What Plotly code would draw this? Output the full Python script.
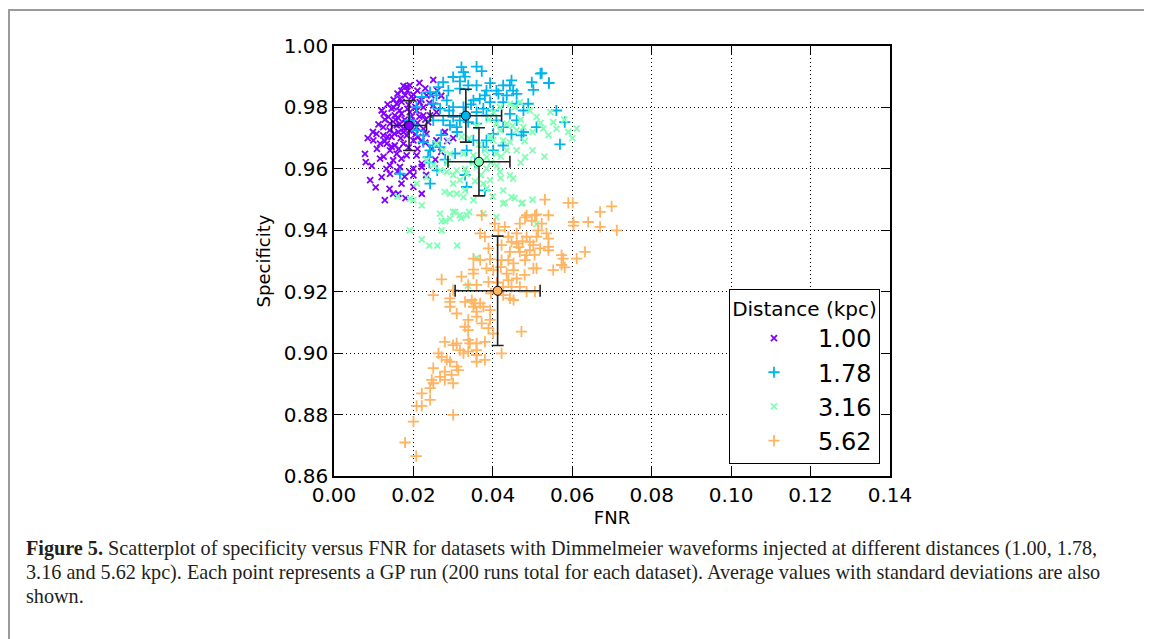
import plotly.graph_objects as go

# ---------------- data ----------------
distances = ["1.00", "1.78", "3.16", "5.62"]
colors = ["#8000ff", "#00b4ec", "#80ffb4", "#ffb462"]
symbols = ["x-thin", "cross-thin", "x-thin", "cross-thin"]

runs_100 = [
    (0.0250,0.9890),(0.0191,0.9872),(0.0170,0.9855),(0.0185,0.9855),(0.0210,0.9855),(0.0233,0.9839),(0.0120,0.9790),(0.0145,0.9796),(0.0158,0.9812),(0.0166,0.9828),
    (0.0179,0.9839),(0.0200,0.9828),(0.0216,0.9817),(0.0137,0.9769),(0.0153,0.9774),(0.0170,0.9780),(0.0191,0.9785),(0.0208,0.9790),(0.0225,0.9774),(0.0124,0.9736),
    (0.0141,0.9747),(0.0158,0.9742),(0.0175,0.9731),(0.0208,0.9736),(0.0107,0.9714),(0.0124,0.9709),(0.0145,0.9704),(0.0162,0.9720),(0.0183,0.9709),(0.0212,0.9704),
    (0.0099,0.9693),(0.0116,0.9682),(0.0133,0.9682),(0.0153,0.9676),(0.0175,0.9682),(0.0200,0.9693),(0.0258,0.9693),(0.0279,0.9720),(0.0233,0.9714),(0.0141,0.9660),
    (0.0158,0.9649),(0.0183,0.9644),(0.0208,0.9644),(0.0078,0.9649),(0.0080,0.9622),(0.0116,0.9633),(0.0149,0.9628),(0.0170,0.9633),(0.0141,0.9611),(0.0166,0.9606),
    (0.0200,0.9601),(0.0221,0.9617),(0.0221,0.9606),(0.0091,0.9563),(0.0120,0.9573),(0.0141,0.9584),(0.0170,0.9552),(0.0200,0.9541),(0.0149,0.9519),(0.0162,0.9519),
    (0.0221,0.9519),(0.0128,0.9498),(0.0200,0.9579),(0.0191,0.9590),(0.0242,0.9774),(0.0258,0.9785),(0.0237,0.9752),(0.0250,0.9807),
    (0.0150,0.9800),(0.0162,0.9765),(0.0178,0.9760),(0.0195,0.9758),(0.0140,0.9725),(0.0152,0.9715),(0.0168,0.9700),(0.0190,0.9725),(0.0205,0.9712),(0.0220,0.9690),
    (0.0135,0.9705),(0.0128,0.9690),(0.0145,0.9672),(0.0163,0.9665),(0.0188,0.9670),(0.0210,0.9665),(0.0230,0.9685),(0.0245,0.9665),(0.0170,0.9818),(0.0188,0.9808),
    (0.0205,0.9802),(0.0225,0.9800),(0.0240,0.9815),(0.0200,0.9842),(0.0183,0.9868),(0.0230,0.9862),(0.0260,0.9855),(0.0270,0.9838),(0.0128,0.9760),(0.0112,0.9745),
    (0.0098,0.9720),(0.0085,0.9700),(0.0108,0.9665),(0.0125,0.9640),(0.0095,0.9610),(0.0132,0.9600),(0.0160,0.9592),(0.0178,0.9575),(0.0105,0.9540),(0.0140,0.9535),
    (0.0180,0.9505),(0.0232,0.9580),(0.0255,0.9630),(0.0270,0.9655),(0.0285,0.9690),(0.0300,0.9700),
    (0.0160,0.9845),(0.0175,0.9870),(0.0215,0.9880),(0.0195,0.9835),(0.0150,0.9825),(0.0135,0.9810),(0.0125,0.9780),(0.0165,0.9790),(0.0185,0.9795),(0.0215,0.9770),
    (0.0230,0.9760),(0.0180,0.9750),(0.0165,0.9745),(0.0210,0.9750),(0.0220,0.9825),(0.0245,0.9840),(0.0155,0.9760),(0.0195,0.9770),(0.0175,0.9720),(0.0225,0.9730),
]

runs_178 = [
    (0.0321,0.9931),(0.0326,0.9915),(0.0330,0.9900),(0.0317,0.9885),(0.0359,0.9933),(0.0372,0.9918),(0.0300,0.9899),(0.0275,0.9882),(0.0263,0.9866),(0.0288,0.9855),
    (0.0317,0.9861),(0.0338,0.9872),(0.0359,0.9872),(0.0393,0.9879),(0.0426,0.9872),(0.0447,0.9888),(0.0443,0.9872),(0.0451,0.9855),(0.0409,0.9855),(0.0384,0.9855),
    (0.0380,0.9839),(0.0414,0.9844),(0.0435,0.9839),(0.0460,0.9844),(0.0498,0.9882),(0.0520,0.9910),(0.0541,0.9879),(0.0502,0.9857),(0.0351,0.9823),(0.0367,0.9828),
    (0.0393,0.9817),(0.0426,0.9817),(0.0460,0.9812),(0.0489,0.9812),(0.0477,0.9790),(0.0284,0.9823),(0.0258,0.9839),(0.0242,0.9850),(0.0221,0.9834),(0.0250,0.9812),
    (0.0208,0.9801),(0.0267,0.9796),(0.0275,0.9758),(0.0250,0.9758),(0.0300,0.9769),(0.0317,0.9758),(0.0292,0.9742),(0.0309,0.9736),(0.0338,0.9752),(0.0359,0.9747),
    (0.0384,0.9774),(0.0401,0.9790),(0.0376,0.9796),(0.0359,0.9785),(0.0409,0.9758),(0.0443,0.9779),(0.0426,0.9736),(0.0460,0.9758),(0.0477,0.9720),(0.0447,0.9712),
    (0.0401,0.9714),(0.0384,0.9693),(0.0351,0.9693),(0.0334,0.9660),(0.0401,0.9660),(0.0376,0.9671),(0.0242,0.9660),(0.0237,0.9638),(0.0267,0.9671),(0.0250,0.9676),
    (0.0225,0.9709),(0.0208,0.9725),(0.0191,0.9758),(0.0200,0.9742),(0.0166,0.9584),(0.0242,0.9552),(0.0334,0.9541),(0.0380,0.9530),(0.0560,0.9790),(0.0581,0.9752),
    (0.0569,0.9680),(0.0472,0.9709),(0.0426,0.9676),(0.0225,0.9687),(0.0300,0.9801),(0.0326,0.9801),(0.0510,0.9736),(0.0523,0.9912),(0.0541,0.9880),(0.0280,0.9630),
    (0.0310,0.9720),(0.0330,0.9780),(0.0290,0.9790),(0.0345,0.9810),(0.0270,0.9710),(0.0305,0.9650),(0.0355,0.9620),(0.0260,0.9595),(0.0240,0.9620),(0.0330,0.9580),
]

runs_316 = [
    (0.0443,0.9812),(0.0468,0.9817),(0.0456,0.9801),(0.0418,0.9801),(0.0401,0.9785),(0.0493,0.9790),(0.0510,0.9769),(0.0527,0.9731),(0.0552,0.9752),(0.0590,0.9720),
    (0.0611,0.9731),(0.0477,0.9736),(0.0460,0.9725),(0.0435,0.9747),(0.0409,0.9747),(0.0418,0.9725),(0.0401,0.9693),(0.0393,0.9704),(0.0426,0.9693),(0.0443,0.9687),
    (0.0481,0.9638),(0.0460,0.9660),(0.0435,0.9660),(0.0409,0.9649),(0.0384,0.9638),(0.0351,0.9644),(0.0326,0.9649),(0.0292,0.9649),(0.0275,0.9660),(0.0258,0.9682),
    (0.0288,0.9693),(0.0321,0.9704),(0.0233,0.9628),(0.0250,0.9611),(0.0267,0.9595),(0.0284,0.9590),(0.0309,0.9595),(0.0334,0.9584),(0.0359,0.9606),(0.0384,0.9601),
    (0.0418,0.9590),(0.0443,0.9579),(0.0451,0.9568),(0.0393,0.9563),(0.0376,0.9552),(0.0317,0.9563),(0.0300,0.9552),(0.0279,0.9525),(0.0292,0.9519),(0.0309,0.9519),
    (0.0326,0.9508),(0.0351,0.9498),(0.0384,0.9536),(0.0426,0.9530),(0.0447,0.9508),(0.0426,0.9487),(0.0472,0.9487),(0.0233,0.9573),(0.0208,0.9552),(0.0267,0.9454),
    (0.0300,0.9460),(0.0317,0.9449),(0.0334,0.9449),(0.0292,0.9438),(0.0200,0.9498),(0.0191,0.9503),(0.0221,0.9481),(0.0376,0.9454),(0.0409,0.9443),
    (0.0191,0.9400),(0.0221,0.9370),(0.0240,0.9350),(0.0260,0.9350),(0.0310,0.9350),(0.0271,0.9400),(0.0271,0.9430),(0.0280,0.9430),(0.0305,0.9460),(0.0320,0.9440),
    (0.0340,0.9460),(0.0400,0.9510),(0.0430,0.9490),(0.0455,0.9505),(0.0475,0.9490),(0.0500,0.9500),(0.0510,0.9420),(0.0337,0.9220),(0.0359,0.9310),
    (0.0365,0.9680),(0.0380,0.9660),(0.0350,0.9620),(0.0395,0.9620),(0.0420,0.9640),(0.0330,0.9600),(0.0370,0.9580),(0.0420,0.9570),(0.0300,0.9580),(0.0285,0.9620),
    (0.0480,0.9690),(0.0500,0.9720),(0.0450,0.9740),(0.0470,0.9760),(0.0520,0.9750),(0.0540,0.9710),(0.0560,0.9730),(0.0580,0.9760),(0.0545,0.9785),(0.0600,0.9700),
    (0.0500,0.9660),(0.0470,0.9620),(0.0530,0.9640),(0.0160,0.9510),(0.0340,0.9700),(0.0360,0.9740),(0.0390,0.9760),(0.0330,0.9530),(0.0355,0.9560),(0.0410,0.9610),
]

runs_562 = [
    (0.0531,0.9500),(0.0590,0.9489),(0.0601,0.9489),(0.0699,0.9478),(0.0670,0.9460),(0.0481,0.9442),(0.0506,0.9449),(0.0540,0.9449),(0.0405,0.9422),(0.0430,0.9411),
    (0.0468,0.9422),(0.0498,0.9431),(0.0523,0.9422),(0.0603,0.9427),(0.0640,0.9427),(0.0603,0.9415),(0.0670,0.9411),(0.0712,0.9400),(0.0414,0.9400),(0.0368,0.9390),
    (0.0380,0.9379),(0.0460,0.9390),(0.0485,0.9379),(0.0514,0.9400),(0.0535,0.9390),(0.0540,0.9373),(0.0510,0.9379),(0.0493,0.9362),(0.0502,0.9352),(0.0540,0.9346),
    (0.0540,0.9335),(0.0519,0.9341),(0.0493,0.9335),(0.0439,0.9379),(0.0447,0.9362),(0.0460,0.9357),(0.0422,0.9352),(0.0389,0.9341),(0.0468,0.9330),(0.0443,0.9330),
    (0.0485,0.9319),(0.0573,0.9319),(0.0577,0.9308),(0.0611,0.9308),(0.0632,0.9330),(0.0351,0.9308),(0.0368,0.9303),(0.0393,0.9305),(0.0422,0.9303),(0.0439,0.9303),
    (0.0452,0.9292),(0.0481,0.9303),(0.0502,0.9276),(0.0510,0.9276),(0.0552,0.9270),(0.0573,0.9287),(0.0581,0.9279),(0.0351,0.9272),(0.0351,0.9259),(0.0384,0.9276),
    (0.0401,0.9270),(0.0435,0.9259),(0.0452,0.9270),(0.0460,0.9243),(0.0439,0.9238),(0.0447,0.9216),(0.0426,0.9216),(0.0271,0.9240),(0.0321,0.9249),(0.0338,0.9222),
    (0.0359,0.9222),(0.0389,0.9232),(0.0300,0.9205),(0.0250,0.9189),(0.0292,0.9178),(0.0292,0.9167),(0.0292,0.9151),(0.0330,0.9167),(0.0347,0.9173),(0.0355,0.9162),
    (0.0368,0.9162),(0.0426,0.9189),(0.0443,0.9178),(0.0452,0.9173),(0.0468,0.9216),(0.0485,0.9200),(0.0506,0.9200),(0.0351,0.9151),(0.0359,0.9135),(0.0359,0.9119),
    (0.0376,0.9151),(0.0393,0.9140),(0.0393,0.9108),(0.0372,0.9097),(0.0309,0.9129),(0.0338,0.9108),(0.0330,0.9086),(0.0338,0.9075),(0.0389,0.9081),(0.0401,0.9064),
    (0.0472,0.9070),(0.0279,0.9037),(0.0300,0.9026),(0.0309,0.9032),(0.0338,0.9043),(0.0342,0.9032),(0.0359,0.9032),(0.0380,0.9037),(0.0263,0.8999),(0.0271,0.8988),
    (0.0284,0.8978),(0.0292,0.8972),(0.0317,0.9010),(0.0326,0.8999),(0.0338,0.9005),(0.0359,0.9010),(0.0359,0.8994),(0.0380,0.8978),(0.0359,0.8972),(0.0422,0.8999),
    (0.0309,0.8956),(0.0313,0.8945),(0.0250,0.8951),(0.0279,0.8940),(0.0267,0.8923),(0.0279,0.8913),(0.0296,0.8929),(0.0300,0.8902),(0.0246,0.8913),(0.0250,0.8902),
    (0.0242,0.8886),(0.0221,0.8869),(0.0242,0.8848),(0.0208,0.8828),(0.0221,0.8828),(0.0300,0.8799),(0.0200,0.8777),(0.0179,0.8709),(0.0207,0.8665),
    (0.0372,0.9449),(0.0485,0.9449),(0.0510,0.9452),(0.0475,0.9365),(0.0505,0.9320),(0.0465,0.9345),(0.0420,0.9280),(0.0480,0.9255),(0.0410,0.9230),(0.0395,0.9195),
]

# averages and standard deviations
mean_fnr = [0.0189, 0.0332, 0.0365, 0.0412]
mean_spec = [0.9741, 0.9773, 0.9623, 0.9203]
std_fnr = [0.0044, 0.0090, 0.0078, 0.0107]
std_spec = [0.0081, 0.0086, 0.0111, 0.0178]

x_ticks = [0.00, 0.02, 0.04, 0.06, 0.08, 0.10, 0.12, 0.14]
y_ticks = [0.86, 0.88, 0.90, 0.92, 0.94, 0.96, 0.98, 1.00]

caption_lines = [
    "<b>Figure 5.</b> Scatterplot of specificity versus FNR for datasets with Dimmelmeier waveforms injected at different distances (1.00, 1.78,",
    "3.16 and 5.62 kpc). Each point represents a GP run (200 runs total for each dataset). Average values with standard deviations are also",
    "shown.",
]

# ---------------- figure ----------------
# the page body adds an 8 px margin, so the figure is laid out 8 px up/left
OFF = 8
W, H = 1152 - OFF, 639 - OFF
L, R, T, B = 334 - OFF, 890 - OFF, 46 - OFF, 476 - OFF   # plot area in pixels
pw, ph = R - L, B - T

def px(x):
    return (x - OFF - L) / pw

def py(y):
    return (B - (y - OFF)) / ph

fig = go.Figure()
all_runs = [runs_100, runs_178, runs_316, runs_562]
for name, col, sym, runs in zip(distances, colors, symbols, all_runs):
    xs = [p[0] for p in runs]
    ys = [p[1] for p in runs]
    is_x = sym.startswith("x")
    fig.add_trace(go.Scatter(
        x=xs, y=ys, mode="markers", name=name,
        marker=dict(symbol=sym, size=6 if is_x else 8, color=col,
                    line=dict(color=col, width=1.8)),
    ))

for i, col in enumerate(colors):
    fig.add_trace(go.Scatter(
        x=[mean_fnr[i]], y=[mean_spec[i]], mode="markers", showlegend=False,
        marker=dict(symbol="circle", size=9, color=col, line=dict(color="black", width=1)),
        error_x=dict(type="data", array=[std_fnr[i]], color="#222222", thickness=1.6, width=6),
        error_y=dict(type="data", array=[std_spec[i]], color="#222222", thickness=1.6, width=6),
    ))

axis_common = dict(
    showline=True, linecolor="black", linewidth=1.5, mirror="allticks",
    ticks="inside", ticklen=9, tickwidth=1, tickcolor="black",
    showgrid=True, gridcolor="black", gridwidth=1, griddash="1px,3px",
    zeroline=False, tickformat=".2f",
    tickfont=dict(family="DejaVu Sans", size=20, color="black"),
    title_font=dict(family="DejaVu Sans", size=18, color="black"),
)

fig.update_xaxes(range=[0, 0.14], tickvals=x_ticks, title_text="FNR", title_standoff=6, **axis_common)
fig.update_yaxes(range=[0.86, 1.00], tickvals=y_ticks, title_text="Specificity", title_standoff=8, **axis_common)

annotations = []
cap_y = [548, 572, 596]
for line, yy in zip(caption_lines, cap_y):
    annotations.append(dict(
        text=line, x=px(24), y=py(yy), xref="paper", yref="paper",
        xanchor="left", yanchor="middle", showarrow=False, align="left",
        font=dict(family="Liberation Serif", size=20.2, color="#231f20"),
    ))

shapes = [
    dict(type="line", xref="paper", yref="paper", x0=px(OFF), x1=px(1160), y0=py(10), y1=py(10),
         line=dict(color="#9a9a9a", width=2)),
    dict(type="line", xref="paper", yref="paper", x0=px(OFF + 1), x1=px(OFF + 1), y0=py(10), y1=py(650),
         line=dict(color="#9a9a9a", width=2)),
]

fig.update_layout(
    width=W, height=H,
    margin=dict(l=L, r=W - R, t=T, b=H - B, autoexpand=False),
    paper_bgcolor="white", plot_bgcolor="white",
    annotations=annotations, shapes=shapes,
    legend=dict(
        x=0.982, y=0.028, xanchor="right", yanchor="bottom",
        bgcolor="white", bordercolor="black", borderwidth=1,
        font=dict(family="DejaVu Sans", size=24, color="black"),
        title=dict(text="Distance (kpc)", side="top center",
                   font=dict(family="DejaVu Sans", size=20, color="black")),
        itemwidth=78, entrywidth=155, entrywidthmode="pixels",
    ),
    showlegend=True,
)

fig.write_html("out.html")
